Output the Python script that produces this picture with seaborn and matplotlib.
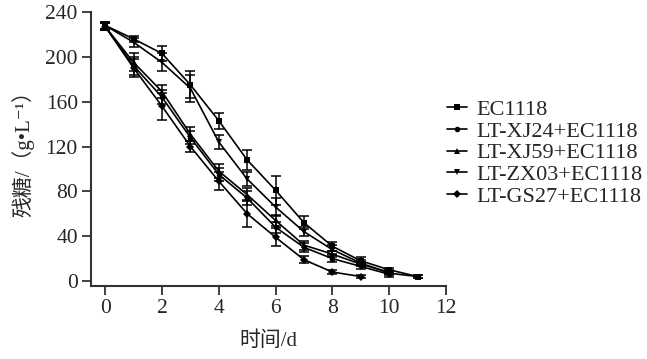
import numpy as np
import pandas as pd
import matplotlib
matplotlib.use("Agg")
import matplotlib.pyplot as plt
import seaborn as sns

days = [0, 1, 2, 3, 4, 5, 6, 7, 8, 9, 10, 11]
series_names = ["EC1118", "LT-XJ24+EC1118", "LT-XJ59+EC1118", "LT-ZX03+EC1118", "LT-GS27+EC1118"]
ec1118 = [228, 216, 203, 175, 143, 108, 81, 52, 31, 18, 10, 4]
xj24 = [227, 192, 164, 128, 95, 74, 48, 30, 20, 13, 6]
xj59 = [227, 195, 169, 131, 98, 77, 54, 32, 24, 15, 8]
zx03 = [228, 213, 195, 172, 124, 91, 66, 44, 28, 16, 7, 4]
gs27 = [227, 190, 156, 120, 89, 60, 39, 19, 8, 4]

ec1118_err = [3, 3, 7, 12, 7, 9, 13, 6, 4, 3, 2, 1]
xj24_err = [3, 8, 6, 6, 6, 6, 5, 4, 3, 2, 2]
xj59_err = [3, 8, 6, 6, 6, 6, 5, 4, 3, 2, 2]
zx03_err = [3, 4, 8, 12, 6, 6, 8, 4, 4, 3, 2, 1]
gs27_err = [3, 8, 12, 5, 8, 12, 8, 3, 2, 1]

values = [ec1118, xj24, xj59, zx03, gs27]
errors = [ec1118_err, xj24_err, xj59_err, zx03_err, gs27_err]
markers = ["s", "o", "^", "v", "D"]

rows = []
for name, vals, errs in zip(series_names, values, errors):
    for d, v, e in zip(days, vals, errs):
        rows.append({"day": d, "sugar": v, "err": e, "group": name})
df = pd.DataFrame(rows)

sns.set_theme(style="ticks")
plt.rcParams["font.family"] = ["Liberation Serif", "Noto Sans CJK SC", "DejaVu Sans"]
plt.rcParams["axes.unicode_minus"] = False

fig = plt.figure(figsize=(6.47, 3.59), dpi=100)
ax = fig.add_axes([91 / 647, 1 - 285.5 / 359, (446 - 91) / 647, (285.5 - 12) / 359])

sns.lineplot(data=df, x="day", y="sugar", hue="group", style="group",
             hue_order=series_names, style_order=series_names,
             palette=["black"] * 5, markers=dict(zip(series_names, markers)),
             dashes=False, markersize=4, linewidth=1.2, markeredgewidth=0,
             ax=ax, legend=True)

for name in series_names:
    sub = df[df["group"] == name]
    ax.errorbar(sub["day"], sub["sugar"], yerr=sub["err"], fmt="none",
                ecolor="black", elinewidth=1.1, capsize=3.5, capthick=1.1)

ax.set_xlim(-0.5, 12)
ax.set_ylim(-4, 240)
ax.set_xticks([0, 2, 4, 6, 8, 10, 12])
ax.set_yticks([0, 40, 80, 120, 160, 200, 240])
ax.tick_params(axis="both", labelsize=15.5, direction="out", length=6.5, width=1.3,
               color="#333333", pad=3)
ax.set_xlabel("时间/d", fontsize=15, labelpad=10)
ax.set_ylabel("残糖/（g•L⁻¹）", fontsize=15, labelpad=8)
sns.despine(ax=ax)
for s in ["left", "bottom"]:
    ax.spines[s].set_linewidth(1.5)
    ax.spines[s].set_color("#333333")

handles, labels = ax.get_legend_handles_labels()
ax.legend_.remove()
fig.legend(handles, labels, loc="center left", bbox_to_anchor=(447 / 647, 1 - 153 / 359),
           frameon=False, fontsize=16, handlelength=0.9, handletextpad=0.4,
           labelspacing=0.05, borderpad=0, borderaxespad=0)

fig.savefig("out.png", dpi=100)
